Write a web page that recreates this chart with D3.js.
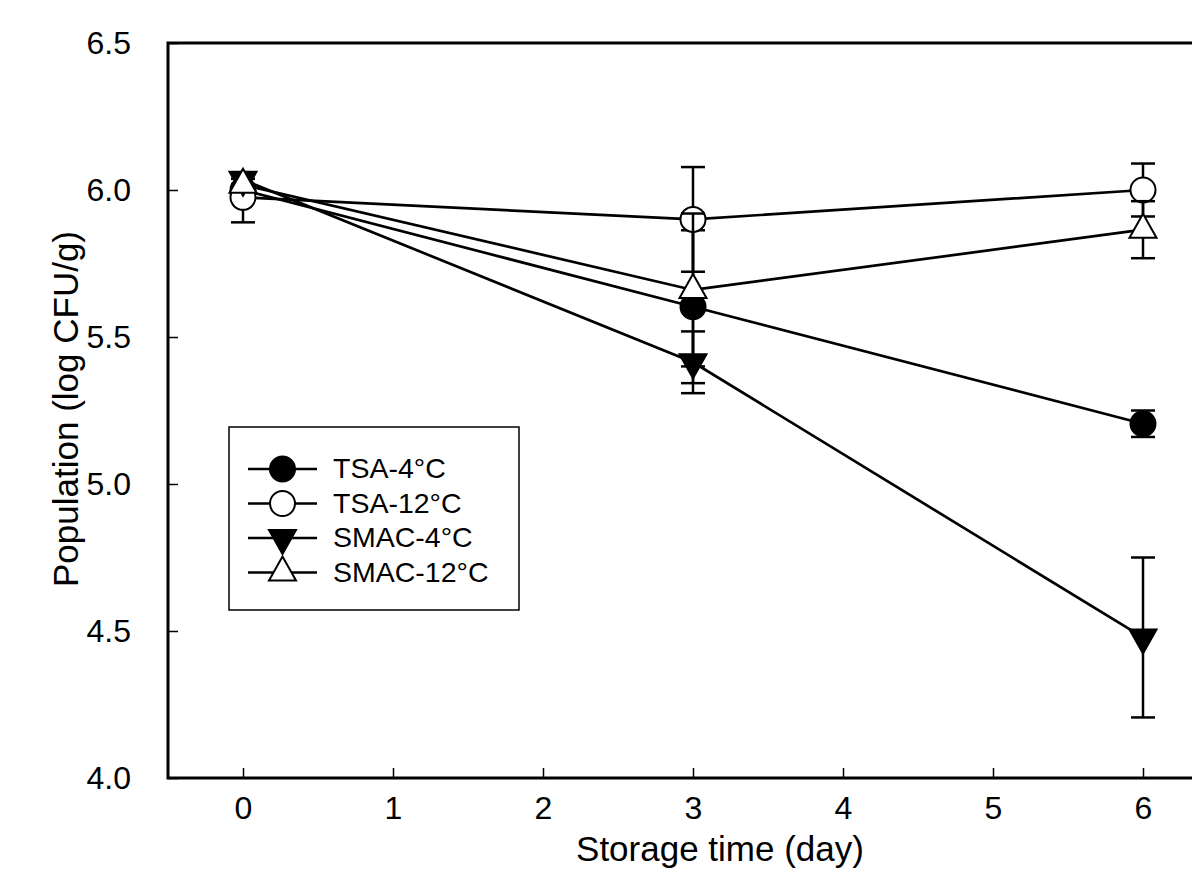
<!DOCTYPE html>
<html>
<head>
<meta charset="utf-8">
<script src="https://cdn.jsdelivr.net/npm/d3@7"></script>
<style>
  body { margin: 0; background: #fff; }
  svg { display: block; font-family: "Liberation Sans", Arial, sans-serif; }
</style>
</head>
<body>
<svg id="chart" width="1192" height="893"></svg>
<script>
// data
var days = [0, 3, 6];
var seriesNames = ["TSA-4°C", "TSA-12°C", "SMAC-4°C", "SMAC-12°C"];
var tsa4 = [6.00, 5.603, 5.205];
var tsa4Err = [0.02, 0.26, 0.045];
var tsa12 = [5.975, 5.90, 6.00];
var tsa12Err = [0.085, 0.178, 0.09];
var smac4 = [6.035, 5.414, 4.478];
var smac4Err = [0.02, 0.105, 0.272];
var smac12 = [6.018, 5.66, 5.865];
var smac12Err = [0.02, 0.26, 0.097];
var xTicks = [0, 1, 2, 3, 4, 5, 6];
var yTicks = [4.0, 4.5, 5.0, 5.5, 6.0, 6.5];

var svg = d3.select("#chart");

// plot area (right edge falls just outside the picture)
var x = d3.scaleLinear().domain([-0.5, 6.5]).range([168, 1218]);
var y = d3.scaleLinear().domain([4.0, 6.5]).range([778, 43]);

var series = [
    {name: seriesNames[0], vals: tsa4, err: tsa4Err, shape: "circle", fill: "#000"},
    {name: seriesNames[1], vals: tsa12, err: tsa12Err, shape: "circle", fill: "#fff"},
    {name: seriesNames[2], vals: smac4, err: smac4Err, shape: "down", fill: "#000"},
    {name: seriesNames[3], vals: smac12, err: smac12Err, shape: "up", fill: "#fff"}
];

// draw a symbol centred at (cx, cy)
function drawSymbol(g, shape, fill, cx, cy) {
    if (shape === "circle") {
        g.append("circle")
            .attr("cx", cx).attr("cy", cy).attr("r", 12.5)
            .attr("fill", fill).attr("stroke", "#000").attr("stroke-width", 2);
    } else {
        // triangles centred on their centroid
        var w = 27, h = 24;
        var pts;
        if (shape === "up") {
            pts = [[cx, cy - 2 * h / 3], [cx - w / 2, cy + h / 3], [cx + w / 2, cy + h / 3]];
        } else {
            pts = [[cx, cy + 2 * h / 3], [cx - w / 2, cy - h / 3], [cx + w / 2, cy - h / 3]];
        }
        g.append("polygon")
            .attr("points", pts.map(function(p) { return p.join(","); }).join(" "))
            .attr("fill", fill).attr("stroke", "#000").attr("stroke-width", 2)
            .attr("stroke-linejoin", "miter");
    }
}

// axes
var xAxis = d3.axisBottom(x).tickValues(xTicks).tickFormat(d3.format("d"))
    .tickSizeInner(-10).tickSizeOuter(0).tickPadding(18);
var gx = svg.append("g").attr("transform", "translate(0,778)").call(xAxis);
gx.select(".domain").remove();
gx.selectAll(".tick line").attr("stroke", "#000").attr("stroke-width", 1.5);
gx.selectAll(".tick text").attr("font-size", 32).attr("fill", "#000")
    .attr("font-family", "Liberation Sans, Arial, sans-serif");

var yAxis = d3.axisLeft(y).tickValues(yTicks).tickFormat(d3.format(".1f"))
    .tickSizeInner(-10).tickSizeOuter(0).tickPadding(37);
var gy = svg.append("g").attr("transform", "translate(168,0)").call(yAxis);
gy.select(".domain").remove();
gy.selectAll(".tick line").attr("stroke", "#000").attr("stroke-width", 1.5);
gy.selectAll(".tick text").attr("font-size", 32).attr("fill", "#000")
    .attr("font-family", "Liberation Sans, Arial, sans-serif");

// frame
svg.append("rect")
    .attr("x", x(-0.5)).attr("y", y(6.5))
    .attr("width", x(6.5) - x(-0.5)).attr("height", y(4.0) - y(6.5))
    .attr("fill", "none").attr("stroke", "#000").attr("stroke-width", 3);

// axis titles
svg.append("text")
    .attr("x", 720).attr("y", 861)
    .attr("text-anchor", "middle").attr("font-size", 35)
    .text("Storage time (day)");
svg.append("text")
    .attr("transform", "translate(78,409) rotate(-90)")
    .attr("text-anchor", "middle").attr("font-size", 35)
    .text("Population (log CFU/g)");

// lines first
var line = d3.line().x(function(d, i) { return x(days[i]); }).y(function(d) { return y(d); });
series.forEach(function(s) {
    svg.append("path").datum(s.vals)
        .attr("d", line)
        .attr("fill", "none").attr("stroke", "#000").attr("stroke-width", 2.7);
});

// error bars and symbols, series by series
series.forEach(function(s) {
    var g = svg.append("g");
    s.vals.forEach(function(v, i) {
        var cx = x(days[i]);
        var top = y(v + s.err[i]), bot = y(v - s.err[i]);
        g.append("line").attr("x1", cx).attr("x2", cx).attr("y1", top).attr("y2", bot)
            .attr("stroke", "#000").attr("stroke-width", 2.5);
        [top, bot].forEach(function(yy) {
            g.append("line").attr("x1", cx - 12).attr("x2", cx + 12).attr("y1", yy).attr("y2", yy)
                .attr("stroke", "#000").attr("stroke-width", 2.5);
        });
    });
    s.vals.forEach(function(v, i) {
        drawSymbol(g, s.shape, s.fill, x(days[i]), y(v));
    });
});

// legend
var legend = svg.append("g");
legend.append("rect")
    .attr("x", 229).attr("y", 427).attr("width", 290).attr("height", 183)
    .attr("fill", "#fff").attr("stroke", "#000").attr("stroke-width", 1.5);
series.forEach(function(s, i) {
    var ly = 469 + i * 34.5;
    legend.append("line").attr("x1", 248).attr("x2", 317).attr("y1", ly).attr("y2", ly)
        .attr("stroke", "#000").attr("stroke-width", 2.7);
    drawSymbol(legend, s.shape, s.fill, 282.5, ly);
    legend.append("text")
        .attr("x", 333).attr("y", ly + 9)
        .attr("font-size", 28.5)
        .text(s.name);
});
</script>
</body>
</html>
